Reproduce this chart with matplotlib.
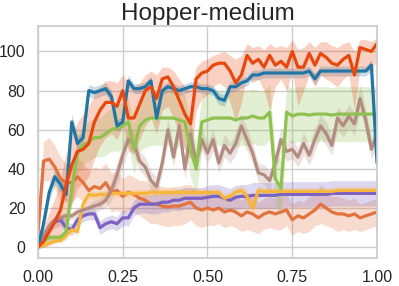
import numpy as np
import matplotlib
matplotlib.use("Agg")
import matplotlib.pyplot as plt
import seaborn as sns

# 61 evaluation points over normalised training progress
steps = np.linspace(0, 1, 61)

red_mean = [0, 3, 8, 13, 19, 32, 42, 49, 50, 53, 64, 70, 74, 74, 72, 80, 66, 66, 73, 80,
            82, 76, 86, 87, 82, 75, 68, 63, 86, 89, 90, 93, 94, 94, 90, 84, 88, 98, 94, 96,
            92, 98, 93, 95, 92, 100, 92, 92, 99, 93, 99, 97, 94, 93, 96, 98, 88, 102, 101, 100, 104]
red_hi = [2, 10, 18, 25, 35, 48, 58, 64, 68, 72, 78, 82, 85, 85, 84, 88, 84, 82, 84, 88,
          90, 88, 92, 92, 90, 86, 82, 80, 92, 95, 96, 98, 99, 100, 98, 96, 98, 104, 102, 103,
          101, 104, 102, 103, 102, 106, 101, 102, 105, 102, 105, 105, 103, 102, 104, 105, 100, 106, 106, 105, 107]
red_lo = [-1, 0, 1, 3, 6, 14, 22, 30, 33, 36, 45, 52, 56, 58, 55, 62, 50, 48, 55, 62,
          66, 58, 70, 72, 66, 58, 50, 45, 70, 76, 78, 82, 84, 82, 74, 64, 74, 88, 84, 86,
          80, 70, 82, 86, 80, 90, 72, 80, 88, 82, 88, 86, 84, 82, 86, 88, 70, 92, 90, 90, 96]

blue_mean = [0, 12, 28, 36, 32, 27, 64, 53, 56, 80, 79, 80, 81, 77, 62, 64, 85, 81, 81, 82,
             85, 66, 80, 82, 81, 80, 81, 82, 82, 81, 81, 80, 76, 75, 82, 82, 84, 85, 88, 88,
             89, 89, 89, 89, 89, 89, 89, 89, 90, 86, 90, 90, 90, 90, 90, 90, 90, 90, 90, 93, 43]
blue_sd = [0.5, 3, 4, 4, 4, 4, 4, 4, 3, 3, 3, 3, 3, 3, 3, 3, 3, 2.5, 2.5, 2.5,
           2.5, 3, 2.5, 2.5, 2.5, 2.5, 2.5, 2.5, 2.5, 2.5, 2.5, 2.5, 3, 3, 2.5, 2.5, 2.5, 2.5, 2.5, 2.5,
           2.5, 2.5, 2.5, 2.5, 2.5, 2.5, 2.5, 2.5, 2.5, 3, 2.5, 2.5, 2.5, 2.5, 2.5, 2.5, 2.5, 2.5, 2.5, 3, 3]

green_mean = [0, 3, 5, 5, 5, 8, 30, 48, 52, 54, 56, 56, 58, 60, 61, 62, 64, 50, 62, 65,
              66, 66, 66, 66, 66, 65, 64, 50, 40, 64, 65, 66, 66, 66, 66, 65, 66, 66, 67, 66,
              66, 69, 35, 30, 69, 67, 68, 68, 67.5, 68, 68, 68, 67.5, 68, 68, 68, 68, 68, 68, 68, 68]
green_sd = [0.5, 1, 1.5, 1.5, 2, 4, 8, 10, 10, 10, 10, 10, 11, 11, 12, 12, 12, 13, 13, 14,
            14, 14, 14, 14, 14, 14, 14, 14, 14, 14, 14, 14, 14, 14, 14, 14, 14, 14, 14, 14,
            14, 14, 14, 14, 14, 14, 14, 14, 14, 14, 14, 14, 14, 14, 14, 14, 14, 14, 14, 14, 14]

brown_mean = [0, 6, 11, 14, 15, 16, 16, 18, 19, 20, 21, 22, 24, 29, 37, 47, 55, 53, 44, 41,
              34, 31, 43, 60, 46, 62, 40, 58, 43, 55, 48, 55, 43, 52, 48, 53, 62, 55, 48, 38,
              37, 34, 43, 55, 49, 50, 46, 53, 47, 55, 62, 58, 52, 66, 62, 67, 63, 76, 65, 50, 58]
brown_sd = [0.5, 1.5, 2, 2, 2, 2, 2, 2, 2, 2, 3, 3, 4, 5, 6, 6, 6, 6, 5, 5,
            5, 5, 5, 6, 5, 6, 5, 6, 5, 6, 5, 6, 5, 6, 5, 6, 6, 6, 5, 5,
            5, 5, 5, 6, 5, 5, 5, 6, 5, 6, 6, 6, 5, 6, 6, 6, 6, 7, 6, 5, 6]

orange_mean = [7, 44, 45, 41, 35, 33, 33, 36, 33, 29, 31, 30, 33, 28, 29, 26, 28, 27, 25, 24,
               22, 22, 21, 20.5, 21, 21, 22, 23, 20, 19, 20, 19, 20, 18, 19, 18, 16, 18, 17, 15,
               17, 18, 17, 18, 19, 14, 16, 15, 17, 19, 22, 20, 18, 17, 17, 16, 17, 15, 16, 17, 18]
orange_sd = [2, 10, 11, 11, 11, 10, 10, 10, 10, 10, 10, 10, 10, 10, 10, 9, 9, 9, 9, 10,
             10, 10, 10, 10, 10, 10, 10, 9, 9, 9, 9, 8, 8, 8, 8, 8, 8, 9, 9, 8,
             8, 8, 8, 9, 8, 8, 8, 8, 9, 8, 10, 9, 8, 9, 8, 8, 8, 7, 7, 7, 7]

yellow_mean = [0, 1, 2, 3, 3.5, 6, 9, 8, 22, 27, 26.5, 27, 27, 27.5, 27.5, 27.5, 27.5, 27.5, 27.5, 27.5,
               28, 28, 28, 28, 28, 28, 28, 28, 28, 28, 28, 28, 28, 25, 26, 28, 29, 26, 20, 29,
               28.5, 28.5, 28.5, 28.5, 28.5, 28.5, 28.5, 28.5, 28.5, 28.5, 28.5, 28.5, 28.5, 29, 29, 29, 29, 29, 29, 29, 29]
yellow_sd = [0.5, 1, 1, 1, 1.5, 2, 2, 2, 3, 2, 2, 2, 2, 2, 2, 2, 2, 2, 2, 2,
             2, 2, 2, 2, 2, 2, 2, 2, 2, 2, 2, 2, 2, 2.5, 2.5, 2.5, 2.5, 3, 3, 2.5,
             2, 2, 2, 2, 2, 2, 2, 2, 2, 2, 2, 2, 2, 2, 2, 2, 2, 2, 2, 2, 2]

purple_mean = [0, 5, 10, 13, 14, 10, 9, 14, 16, 17, 17, 10, 12, 13, 12, 15, 15, 20, 22, 22,
               22, 22, 23, 23, 24, 24, 25, 25, 25, 25, 25.5, 26, 26, 25, 24, 25.5, 26, 26, 26.5, 26.5,
               26.5, 26.5, 26.5, 27, 27, 27, 27, 27, 27, 27, 27, 27, 27.5, 27.5, 27.5, 27.5, 27.5, 27.5, 27.5, 27.5, 27.5]
purple_sd = [0.5, 2, 3, 3, 3, 3, 3, 3, 3, 3, 3, 3.5, 3.5, 3.5, 3.5, 4, 4, 4, 4.5, 4.5,
             5, 5, 5, 5, 5, 5.5, 5.5, 5.5, 5.5, 5.5, 6, 6, 6, 6, 6, 6, 6, 6, 6.5, 6.5,
             6.5, 6.5, 6.5, 6.5, 6.5, 6.5, 6.5, 6.5, 6.5, 6.5, 6.5, 6.5, 6.5, 6.5, 6.5, 6.5, 6.5, 6.5, 6.5, 6.5, 6.5]

sns.set_theme(style="whitegrid")
plt.rcParams['font.family'] = ['Liberation Sans', 'DejaVu Sans']

fig = plt.figure(figsize=(3.99, 2.86), dpi=100)
ax = fig.add_axes([0.095, 0.098, 0.85, 0.811])


def band(mean, sd, color):
    mean = np.array(mean)
    sd = np.array(sd)
    ax.fill_between(steps, mean - sd, mean + sd, color=color, alpha=0.25, lw=0)
    ax.plot(steps, mean, color=color, lw=2.3)


band(orange_mean, orange_sd, "#e2733f")
band(purple_mean, purple_sd, "#7b62c3")
band(yellow_mean, yellow_sd, "#f7b53b")
band(brown_mean, brown_sd, "#b38b80")
band(green_mean, green_sd, "#8fc150")
band(blue_mean, blue_sd, "#2176a6")
ax.fill_between(steps, red_lo, red_hi, color="#e8470e", alpha=0.25, lw=0)
ax.plot(steps, red_mean, color="#e8470e", lw=2.3)

ax.set_xlim(0, 1)
ax.set_ylim(-5.5, 113)
ax.set_xticks([0, 0.25, 0.5, 0.75, 1.0])
ax.set_xticklabels(["0.00", "0.25", "0.50", "0.75", "1.00"])
ax.set_yticks([0, 20, 40, 60, 80, 100])
ax.tick_params(labelsize=11.5, pad=3)
ax.set_title("Hopper-medium", fontsize=17.5, pad=4)

fig.savefig("out.png", dpi=100)
